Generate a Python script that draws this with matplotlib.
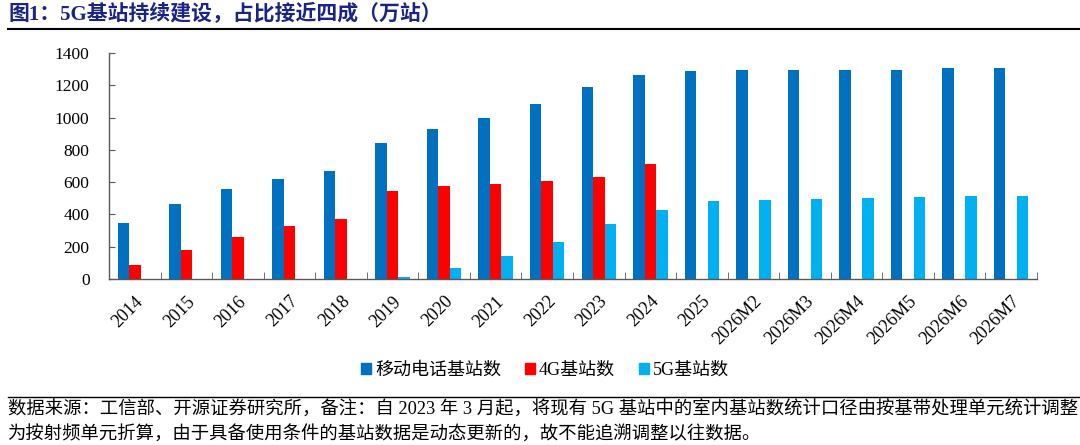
import numpy as np
import matplotlib
matplotlib.use("Agg")
import matplotlib.pyplot as plt
from matplotlib.lines import Line2D
from matplotlib.patches import Patch

plt.rcParams['font.family'] = ['Liberation Serif', 'Noto Sans CJK SC', 'DejaVu Sans']

# data (万站)
periods = ["2014", "2015", "2016", "2017", "2018", "2019", "2020", "2021", "2022",
           "2023", "2024", "2025", "2026M2", "2026M3", "2026M4", "2026M5", "2026M6", "2026M7"]
mobile = [349, 464, 559, 619, 667, 840, 931, 996, 1083, 1187, 1265, 1288,
          1292, 1297, 1294, 1296, 1306, 1310]
bs_4g = [85, 177, 262, 328, 372, 543, 574, 590, 605, 630, 712,
         np.nan, np.nan, np.nan, np.nan, np.nan, np.nan, np.nan]
bs_5g = [np.nan, np.nan, np.nan, np.nan, np.nan, 13, 70, 142, 231, 338, 425, 483,
         491, 497, 502, 506, 512, 516]
series_names = ["移动电话基站数", "4G基站数", "5G基站数"]

C_MOB, C_4G, C_5G = "#0070C0", "#FF0000", "#00B0F0"
AX_COL = "#595959"

fig = plt.figure(figsize=(10.8, 4.45), dpi=100, facecolor="white")
ax = fig.add_axes([109/1080, 1-279/445, (1037-109)/1080, (279-53)/445])

x = np.arange(len(periods))
w = 0.222
ax.bar(x - w, mobile, w, color=C_MOB)
ax.bar(x, bs_4g, w, color=C_4G)
ax.bar(x + w, bs_5g, w, color=C_5G)

ax.set_xlim(-0.5, len(periods) - 0.5)
ax.set_ylim(0, 1400)
ax.set_yticks(np.arange(0, 1401, 200))
for s in ("top", "right"):
    ax.spines[s].set_visible(False)
for s in ("left", "bottom"):
    ax.spines[s].set_color(AX_COL)
    ax.spines[s].set_linewidth(1.0)

ax.set_xticks(x)
ax.set_xticklabels(periods, rotation=45, ha="right", va="top", rotation_mode="anchor")
ax.set_xticks(np.arange(-0.5, len(periods), 1), minor=True)
ax.tick_params(axis="x", which="major", length=0, pad=10, labelsize=13, colors="black")
ax.tick_params(axis="x", which="minor", direction="in", length=5, color=AX_COL)
ax.tick_params(axis="y", direction="in", length=4, color=AX_COL, labelsize=12.5, pad=14)

handles = [Patch(color=c) for c in (C_MOB, C_4G, C_5G)]
fig.legend(handles, series_names, loc="center", bbox_to_anchor=(545/1080, 1-370/445),
           ncol=3, frameon=False, fontsize=13, handlelength=0.55, handleheight=0.55,
           handletextpad=0.25, columnspacing=1.3)

# title and rules
fig.text(8/1080, 1-15/445, "图1：5G基站持续建设，占比接近四成（万站）", fontsize=15,
         fontweight="bold", color="#1A2484", ha="left", va="center")
fig.add_artist(Line2D([8/1080, 1], [1-29/445, 1-29/445], color="black", lw=1.5))
fig.add_artist(Line2D([8/1080, 1], [1-397/445, 1-397/445], color="black", lw=1.0))

fig.text(8/1080, 1-410/445,
         "数据来源：工信部、开源证券研究所，备注：自 2023 年 3 月起，将现有 5G 基站中的室内基站数统计口径由按基带处理单元统计调整",
         fontsize=13.2, ha="left", va="center")
fig.text(8/1080, 1-435/445,
         "为按射频单元折算，由于具备使用条件的基站数据是动态更新的，故不能追溯调整以往数据。",
         fontsize=13.2, ha="left", va="center")

fig.savefig("out.png", dpi=100, facecolor="white")
